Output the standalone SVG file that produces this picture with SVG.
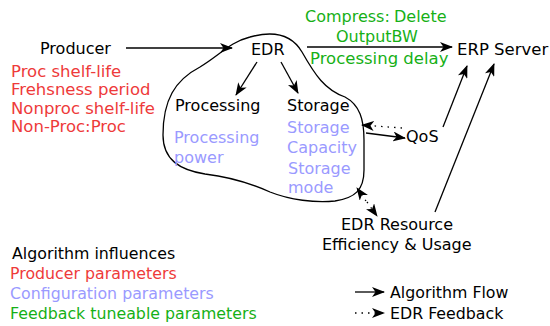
<svg xmlns="http://www.w3.org/2000/svg" width="550" height="326" viewBox="0 0 550 326">
  <defs>
    <style>
      text { font-family: "DejaVu Sans", Verdana, sans-serif; font-size: 16px; fill: #000; }
      .red { fill: #ee3a3a; font-size: 16.5px; }
      .blue { fill: #9a9aff; }
      .green { fill: #16b016; }
      .legend { font-size: 15.8px; }
      .flow { stroke: #000; stroke-width: 1.3; fill: none; marker-end: url(#head); }
      .fb { stroke: #000; stroke-width: 1.3; fill: none; stroke-dasharray: 1.5 5; marker-end: url(#head); }
    </style>
    <marker id="head" viewBox="0 0 13 10" refX="12" refY="5" markerWidth="13" markerHeight="10" markerUnits="userSpaceOnUse" orient="auto-start-reverse">
      <path d="M0,0 L13,5 L0,10 L3.5,5 Z" fill="#000"/>
    </marker>
  </defs>

  <rect width="550" height="326" fill="#fff"/>

  <!-- EDR boundary -->
  <path id="edr-blob" d="M250,37 C275,30 292,35 302,52 C315,75 325,90 345,97 C360,105 364,120 364,140 L364,170 C364,190 355,198 335,201 C315,203 290,200 270,192 C250,183 230,177 205,174 C180,170 163,160 163,135 C163,100 175,80 200,67 C220,55 230,42 250,37 Z" fill="none" stroke="#000" stroke-width="1.3"/>

  <g id="connectors">
    <line x1="126" y1="48" x2="232" y2="48" class="flow" stroke="#555"/>
    <line x1="257" y1="62" x2="236" y2="95" class="flow"/>
    <line x1="281" y1="62" x2="298" y2="93" class="flow"/>
    <line x1="307" y1="47" x2="452" y2="47" class="flow"/>
    <line x1="366" y1="133" x2="405" y2="138" class="flow"/>
    <line x1="402" y1="128" x2="362" y2="125" class="fb"/>
    <line x1="443" y1="127" x2="467" y2="66" class="flow"/>
    <line x1="435" y1="212" x2="494" y2="64" class="flow"/>
    <line x1="366" y1="201" x2="357" y2="188" class="fb"/>
    <line x1="367" y1="202" x2="377" y2="216" class="fb"/>
  </g>

  <g id="producer">
    <text x="40" y="54">Producer</text>
    <text class="red" x="11" y="77">Proc shelf-life</text>
    <text class="red" x="11" y="95">Frehsness period</text>
    <text class="red" x="11" y="114">Nonproc shelf-life</text>
    <text class="red" x="11" y="132">Non-Proc:Proc</text>
  </g>

  <g id="edr">
    <text x="251" y="55">EDR</text>
  </g>

  <g id="processing">
    <text x="175" y="111">Processing</text>
    <text class="blue" x="174" y="143">Processing</text>
    <text class="blue" x="174" y="163">power</text>
  </g>

  <g id="storage">
    <text x="287" y="111">Storage</text>
    <text class="blue" x="287" y="133">Storage</text>
    <text class="blue" x="287" y="153">Capacity</text>
    <text class="blue" x="288" y="174">Storage</text>
    <text class="blue" x="288" y="193">mode</text>
  </g>

  <g id="link-params">
    <text class="green" x="305" y="22">Compress:<tspan x="394">Delete</tspan></text>
    <text class="green" x="336" y="42">OutputBW</text>
    <text class="green" x="310" y="64" style="font-size:16.5px">Processing delay</text>
  </g>

  <g id="erp-server">
    <text x="457" y="55" style="font-size:16.5px">ERP Server</text>
  </g>

  <g id="qos">
    <text x="406" y="142">QoS</text>
  </g>

  <g id="edr-resource">
    <text x="341" y="230">EDR Resource</text>
    <text x="322" y="250">Efficiency &amp; Usage</text>
  </g>

  <g id="legend">
    <text class="legend" x="12" y="259">Algorithm influences</text>
    <text class="legend red" x="10" y="279" style="font-size:15.8px">Producer parameters</text>
    <text class="legend blue" x="10" y="299">Configuration parameters</text>
    <text class="legend green" x="10" y="319">Feedback tuneable parameters</text>
    <line x1="355" y1="292" x2="384" y2="292" class="flow"/>
    <text class="legend" x="390" y="298">Algorithm Flow</text>
    <line x1="355" y1="313" x2="384" y2="313" class="fb"/>
    <text class="legend" x="390" y="319">EDR Feedback</text>
  </g>
</svg>
